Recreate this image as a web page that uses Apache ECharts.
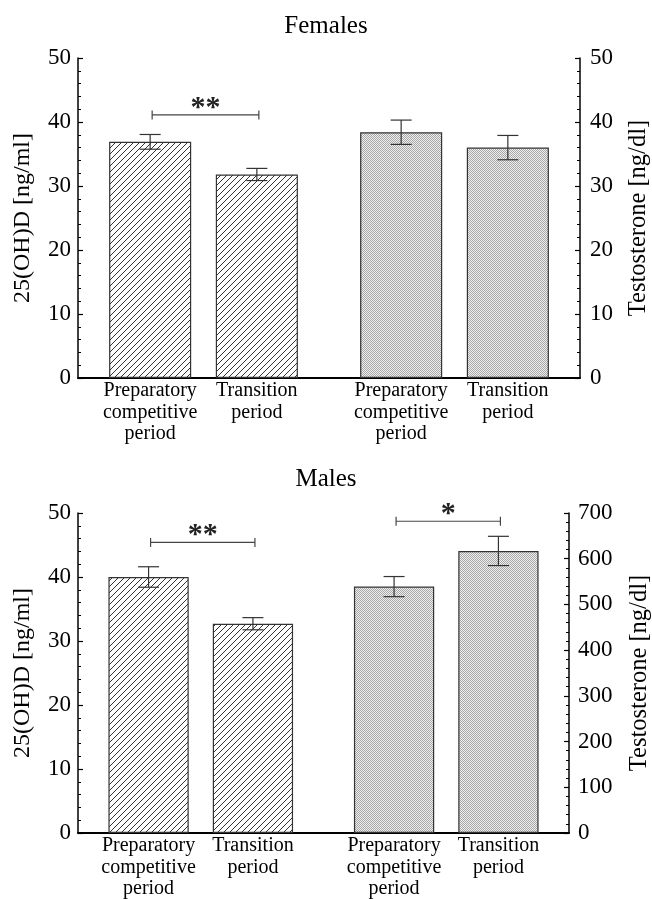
<!DOCTYPE html>
<html>
<head>
<meta charset="utf-8">
<script src="https://cdn.jsdelivr.net/npm/echarts@6/dist/echarts.min.js"></script>
<style>html,body{margin:0;padding:0;background:#fff}#c{width:652px;height:899px}</style>
</head>
<body>
<div id="c"></div>
<script>
// ---------- data ----------
const periodLabels = ['Preparatory\ncompetitive\nperiod', 'Transition\nperiod'];
const panelTitles = ['Females', 'Males'];
const leftAxisName = '25(OH)D [ng/ml]';
const rightAxisName = 'Testosterone [ng/dl]';

// Females
const femaleVitD = [36.9, 31.8];
const femaleVitDErr = [1.15, 0.95];
const femaleTesto = [38.4, 36.0];
const femaleTestoErr = [1.9, 1.9];

// Males
const maleVitD = [40.0, 32.7];
const maleVitDErr = [1.6, 0.95];
const maleTesto = [539, 617];
const maleTestoErr = [22, 32];

// axis ranges
const vitDAxis = {min: 0, max: 50, interval: 10};
const femaleTestoAxis = {min: 0, max: 50, interval: 10};
const maleTestoAxis = {min: 0, max: 700, interval: 100};

// significance brackets (group 0 = 25(OH)D bars, group 1 = testosterone bars)
const femaleSig = [{group: 0, level: 41.1, mark: '**'}];
const maleSig = [{group: 0, level: 45.4, mark: '**'}, {group: 1, level: 682, mark: '*'}];

// ---------- styling ----------
const FONT = 'Liberation Serif';
const BAR_FRAC = 0.327;
const BAR_GAP = 0.30;

function makeHatch() {
  const s = 6, c = document.createElement('canvas');
  c.width = s; c.height = s;
  const g = c.getContext('2d');
  g.fillStyle = '#ffffff'; g.fillRect(0, 0, s, s);
  g.strokeStyle = '#333333'; g.lineWidth = 1;
  g.beginPath();
  g.moveTo(0, s); g.lineTo(s, 0);
  g.moveTo(-1, 1); g.lineTo(1, -1);
  g.moveTo(s - 1, s + 1); g.lineTo(s + 1, s - 1);
  g.stroke();
  return c;
}
function makeDots() {
  const c = document.createElement('canvas');
  c.width = 2; c.height = 2;
  const g = c.getContext('2d');
  g.fillStyle = '#f0f0f0'; g.fillRect(0, 0, 2, 2);
  g.fillStyle = '#a6a6a6';
  g.fillRect(0, 0, 1, 1); g.fillRect(1, 1, 1, 1);
  return c;
}
const hatchFill = {image: makeHatch(), repeat: 'repeat'};
const dotFill = {image: makeDots(), repeat: 'repeat'};

const grids = [
  {left: 78, top: 58, width: 502, height: 320, containLabel: false, outerBoundsMode: 'none'},
  {left: 78, top: 513, width: 491, height: 320, containLabel: false, outerBoundsMode: 'none'}
];

function yAxisDef(gridIndex, range, pos, name, nameGap, nameSize, labelMargin) {
  return {
    type: 'value', gridIndex, position: pos,
    min: range.min, max: range.max, interval: range.interval,
    name, nameLocation: 'middle', nameRotate: 90, nameGap,
    nameTextStyle: {fontFamily: FONT, fontSize: nameSize, color: '#000'},
    axisLine: {show: true, lineStyle: {color: '#000', width: 1.5}},
    axisTick: {show: true, inside: true, length: 5, lineStyle: {color: '#000', width: 1.2}},
    minorTick: {show: true, splitNumber: 5, length: 3, lineStyle: {color: '#000', width: 1}},
    axisLabel: {fontFamily: FONT, fontSize: 23, color: '#000', margin: labelMargin},
    splitLine: {show: false}
  };
}
function xAxisDef(gridIndex, visible) {
  return {
    type: 'category', gridIndex, data: [0, 1],
    show: visible,
    axisLine: {show: visible, onZero: false, lineStyle: {color: '#000', width: 2}},
    axisTick: {show: false}, axisLabel: {show: false}, splitLine: {show: false}
  };
}

function slotOffset(api, slot) {
  const band = api.size([1, 0])[0];
  return (slot - 0.5) * band * BAR_FRAC * (1 + BAR_GAP);
}

function errorRender(params, api) {
  const cat = api.value(0), slot = api.value(1);
  const x = api.coord([cat, 0])[0] + slotOffset(api, slot);
  const yLo = api.coord([cat, api.value(2)])[1];
  const yHi = api.coord([cat, api.value(3)])[1];
  const hw = 10.5;
  const st = {stroke: '#333', lineWidth: 1.2};
  return {type: 'group', children: [
    {type: 'line', shape: {x1: x, y1: yLo, x2: x, y2: yHi}, style: st},
    {type: 'line', shape: {x1: x - hw, y1: yHi, x2: x + hw, y2: yHi}, style: st},
    {type: 'line', shape: {x1: x - hw, y1: yLo, x2: x + hw, y2: yLo}, style: st}
  ]};
}

function sigRender(marks) {
  return function (params, api) {
    const cat = api.value(0);
    const c = api.coord([cat, api.value(1)]);
    const x1 = c[0] + slotOffset(api, 0) + 2, x2 = c[0] + slotOffset(api, 1) + 2;
    const y = c[1];
    const st = {stroke: '#444', lineWidth: 1.2};
    return {type: 'group', children: [
      {type: 'line', shape: {x1, y1: y, x2, y2: y}, style: st},
      {type: 'line', shape: {x1, y1: y - 4.5, x2: x1, y2: y + 4.5}, style: st},
      {type: 'line', shape: {x1: x2, y1: y - 4.5, x2, y2: y + 4.5}, style: st},
      {type: 'text', style: {text: marks[params.dataIndex], x: (x1 + x2) / 2, y: y - 7,
        textAlign: 'center', textVerticalAlign: 'middle', fontFamily: FONT, fontSize: 30,
        fontWeight: 'bold', fill: '#222'}}
    ]};
  };
}

function barSeries(xi, yi, vals, group, slot, fill) {
  const data = ['-', '-'];
  data[group] = vals[slot];
  return {
    type: 'bar', xAxisIndex: xi, yAxisIndex: yi, data,
    barWidth: (BAR_FRAC * 100) + '%', barGap: (BAR_GAP * 100) + '%',
    itemStyle: {color: fill, borderColor: '#333', borderWidth: 1.2},
    label: {show: true, position: 'bottom', distance: 2, formatter: () => periodLabels[slot],
      fontFamily: FONT, fontSize: 20, lineHeight: 21.5, color: '#000'},
    emphasis: {disabled: true}, silent: true, animation: false
  };
}
function errSeries(xi, yi, vals, errs, group) {
  return {
    type: 'custom', xAxisIndex: xi, yAxisIndex: yi, z: 5, silent: true, animation: false,
    renderItem: errorRender,
    data: vals.map((v, i) => [group, i, v - errs[i], v + errs[i]])
  };
}
function sigSeries(xi, yi, sig) {
  return {
    type: 'custom', xAxisIndex: xi, yAxisIndex: yi, z: 5, silent: true, animation: false,
    renderItem: sigRender(sig.map(s => s.mark)),
    data: sig.map(s => [s.group, s.level])
  };
}

const option = {
  animation: false,
  backgroundColor: '#fff',
  title: [
    {text: panelTitles[0], left: 'center', top: 9, textStyle: {fontFamily: FONT, fontSize: 25, fontWeight: 'normal', color: '#000'}},
    {text: panelTitles[1], left: 'center', top: 462, textStyle: {fontFamily: FONT, fontSize: 25, fontWeight: 'normal', color: '#000'}}
  ],
  grid: grids,
  xAxis: [xAxisDef(0, true), xAxisDef(0, false), xAxisDef(1, true), xAxisDef(1, false)],
  yAxis: [
    yAxisDef(0, vitDAxis, 'left', leftAxisName, 43, 24, 7),
    yAxisDef(0, femaleTestoAxis, 'right', rightAxisName, 46.5, 24.5, 10),
    yAxisDef(1, vitDAxis, 'left', leftAxisName, 43, 24, 7),
    yAxisDef(1, maleTestoAxis, 'right', rightAxisName, 58.5, 24.5, 9)
  ],
  series: [
    // Females
    barSeries(0, 0, femaleVitD, 0, 0, hatchFill),
    barSeries(0, 0, femaleVitD, 0, 1, hatchFill),
    barSeries(1, 1, femaleTesto, 1, 0, dotFill),
    barSeries(1, 1, femaleTesto, 1, 1, dotFill),
    errSeries(0, 0, femaleVitD, femaleVitDErr, 0),
    errSeries(1, 1, femaleTesto, femaleTestoErr, 1),
    sigSeries(0, 0, femaleSig.filter(s => s.group === 0)),
    // Males
    barSeries(2, 2, maleVitD, 0, 0, hatchFill),
    barSeries(2, 2, maleVitD, 0, 1, hatchFill),
    barSeries(3, 3, maleTesto, 1, 0, dotFill),
    barSeries(3, 3, maleTesto, 1, 1, dotFill),
    errSeries(2, 2, maleVitD, maleVitDErr, 0),
    errSeries(3, 3, maleTesto, maleTestoErr, 1),
    sigSeries(2, 2, maleSig.filter(s => s.group === 0)),
    sigSeries(3, 3, maleSig.filter(s => s.group === 1))
  ]
};

const chart = echarts.init(document.getElementById('c'), null, {renderer: 'canvas'});
chart.setOption(option);
</script>
</body>
</html>
